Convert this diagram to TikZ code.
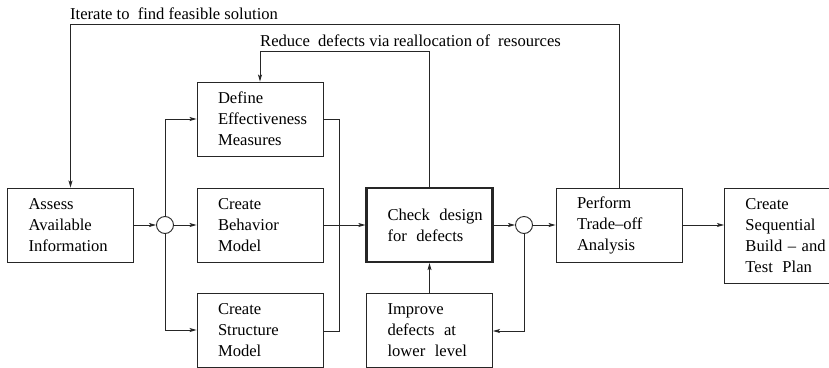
\documentclass[tikz,border=0pt]{standalone}
\usepackage{fontspec}
\setmainfont{Liberation Serif}
\usetikzlibrary{arrows.meta}
\newcommand{\wsp}{\nobreak\hspace{4pt}\nobreak\ }
\begin{document}
\begin{tikzpicture}[x=1pt,y=-1pt,
  every node/.style={font=\fontsize{16.6}{21}\selectfont},
  stepbox/.style={draw=black!85,line width=0.9pt,rectangle,
    minimum width=126pt,minimum height=74pt,inner xsep=21pt,inner ysep=0pt,
    text width=84pt,align=left,
    execute at begin node={\hyphenpenalty=10000\exhyphenpenalty=10000}},
  keybox/.style={stepbox,line width=2.2pt},
  junction/.style={draw=black!85,line width=0.9pt,circle,minimum size=17pt,inner sep=0pt},
  flow/.style={draw=black!85,line width=0.9pt,-{Stealth[length=7pt,width=4pt,inset=1.5pt]}},
  wire/.style={draw=black!85,line width=0.9pt},
  note/.style={anchor=base west,inner sep=0pt}]
\useasboundingbox (0,0) rectangle (829,367);

% process boxes
\node[stepbox] (assess) at (70.5,225) {Assess\\Available\\Information};
\node[stepbox] (define) at (260,119) {Define\\Effectiveness\\Measures};
\node[stepbox] (behav) at (260,225) {Create\\Behavior\\Model};
\node[stepbox] (struct) at (260,330) {Create\\Structure\\Model};
\node[keybox] (check) at (429.5,225) {\mbox{Check\wsp design}\\\mbox{for\wsp defects}};
\node[stepbox] (improve) at (429.5,330) {Improve\\\mbox{defects\wsp at}\\\mbox{lower\wsp level}};
\node[stepbox] (trade) at (619,225) {Perform\\Trade--off\\Analysis};
\node[stepbox,minimum height=95pt,anchor=north west] (plan) at (724,188)
  {Create\\Sequential\\\mbox{Build -- and}\\\mbox{Test\wsp Plan}};

% branch points
\node[junction] (fork) at (165,225) {};
\node[junction] (split) at (524,225) {};

% merge bus to the right of the three modelling boxes
\coordinate (busT) at (339,119);
\coordinate (busB) at (339,331);

% forward flow
\draw[flow] (assess) -- (fork);
\draw[flow] (fork) -- (behav);
\draw[flow] (fork.north) |- (define.west);
\draw[flow] (fork.south) |- (struct.west);
\draw[wire] (define.east) -- (busT) -- (busB) -- (struct.east |- busB);
\draw[flow] (behav) -- (check);
\draw[flow] (check) -- (split);
\draw[flow] (split) -- (trade);
\draw[flow] (trade.east) -- (trade.east -| plan.west);

% defect loop
\draw[flow] (split.south) |- (improve.east |- busB);
\draw[flow] (improve) -- (check);

% feedback paths
\coordinate (redR) at (429.5,51);
\coordinate (redL) at (260,51);
\draw[flow] (check.north) -- (redR) -- (redL) -- (define.north);
\node[note] (redlabel) at (260,46) {Reduce\wsp defects via reallocation of\wsp resources};

\coordinate (itR) at (619,24.5);
\coordinate (itL) at (70.5,24.5);
\draw[flow] (trade.north) -- (itR) -- (itL) -- (assess.north);
\node[note] (itlabel) at (70,19) {Iterate to\wsp find feasible solution};
\end{tikzpicture}
\end{document}
